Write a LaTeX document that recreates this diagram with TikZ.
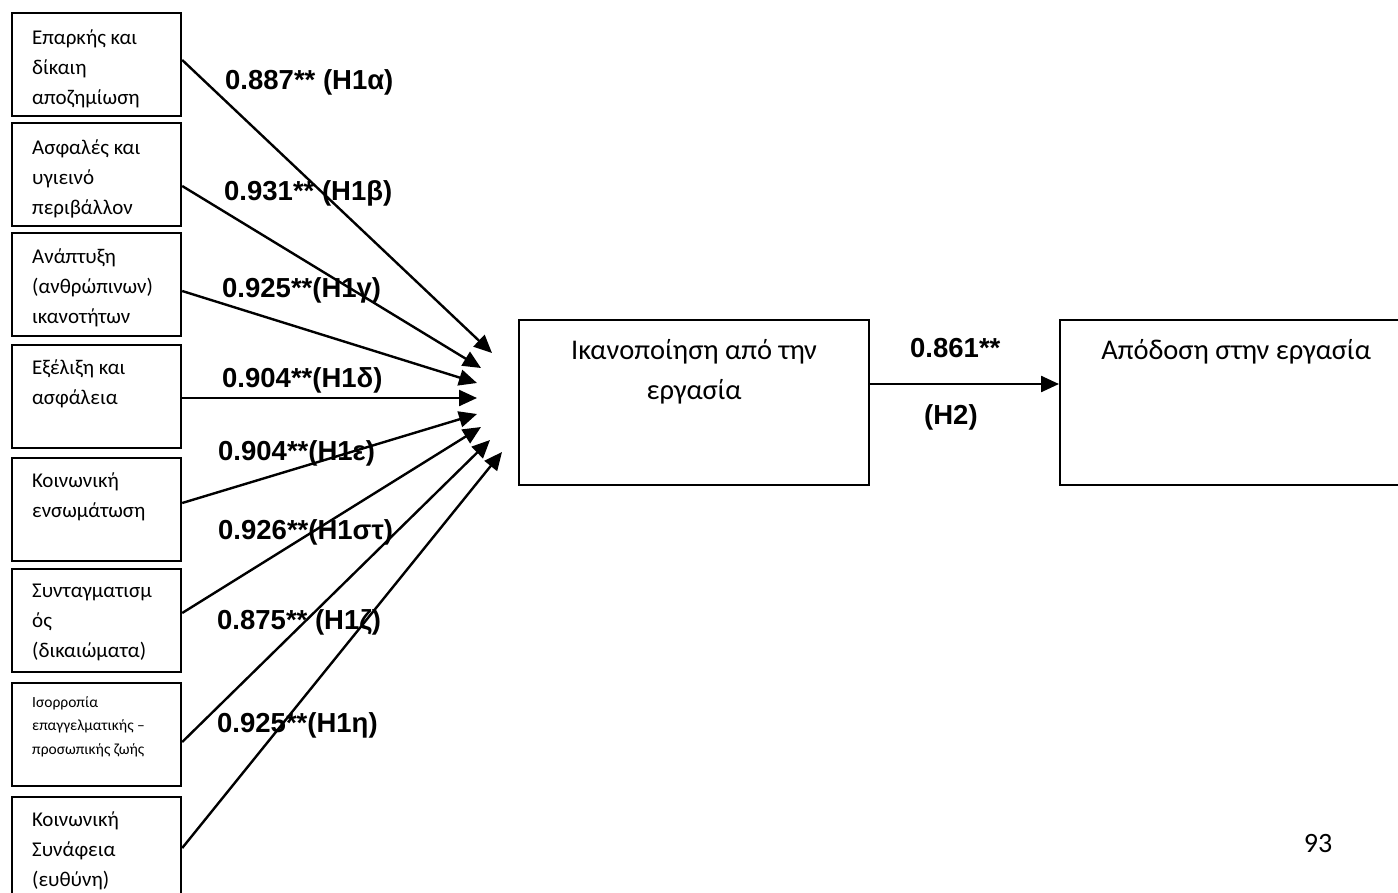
\documentclass[tikz,border=0pt]{standalone}
\usepackage{fontspec}
\setmainfont{Carlito}
\newfontfamily\coeffont{Liberation Sans}
\usetikzlibrary{arrows.meta}

\tikzset{
	factor/.style={draw, line width=2.2pt, minimum width=169pt, minimum height=103pt, anchor=north west, inner sep=0pt},
	factortext/.style={anchor=north west, align=left, inner sep=0pt, font=\fontsize{21}{30}\selectfont},
	smalltext/.style={factortext, font=\fontsize{15.5}{23.5}\selectfont},
	bigbox/.style={draw, line width=2.2pt, minimum height=165pt, anchor=north west, inner sep=0pt},
	bigtext/.style={anchor=north, align=center, inner sep=0pt, font=\fontsize{28.5}{40}\selectfont},
	coef/.style={anchor=west, inner sep=0pt, font=\coeffont\bfseries\fontsize{27.5}{33}\selectfont},
	link/.style={-{Triangle[length=18pt,width=16pt]}, line width=2.4pt}
}

\begin{document}
	\begin{tikzpicture}[x=1pt, y=-1pt]
		\clip (0,0) rectangle (1398,892);
		% factor boxes
		\node[factor] (f1) at (11,12) {};
		\node[factor] (f2) at (11,122) {};
		\node[factor] (f3) at (11,232) {};
		\node[factor] (f4) at (11,344) {};
		\node[factor] (f5) at (11,457) {};
		\node[factor] (f6) at (11,568) {};
		\node[factor] (f7) at (11,682) {};
		\node[factor] (f8) at (11,796) {};
		\node[factortext] (t1) at ([shift={(21,18)}]f1.north west) {Επαρκής και\\δίκαιη\\αποζημίωση};
		\node[factortext] (t2) at ([shift={(21,18)}]f2.north west) {Ασφαλές και\\υγιεινό\\περιβάλλον};
		\node[factortext] (t3) at ([shift={(21,17)}]f3.north west) {Ανάπτυξη\\(ανθρώπινων)\\ικανοτήτων};
		\node[factortext] (t4) at ([shift={(21,16)}]f4.north west) {Εξέλιξη και\\ασφάλεια};
		\node[factortext] (t5) at ([shift={(21,16)}]f5.north west) {Κοινωνική\\ενσωμάτωση};
		\node[factortext] (t6) at ([shift={(21,16)}]f6.north west) {Συνταγματισμ\\ός\\(δικαιώματα)};
		\node[smalltext] (t7) at ([shift={(21,14)}]f7.north west) {Ισορροπία\\επαγγελματικής –\\προσωπικής ζωής};
		\node[factortext] (t8) at ([shift={(21,16)}]f8.north west) {Κοινωνική\\Συνάφεια\\(ευθύνη)};
		% outcome boxes
		\node[bigbox, minimum width=350pt] (sat) at (518,319) {};
		\node[bigbox, minimum width=352pt] (perf) at (1059,319) {};
		\node[bigtext] (sattext) at ([shift={(0,20)}]sat.north) {Ικανοποίηση από την\\εργασία};
		\node[bigtext] (perftext) at ([shift={(0,20)}]perf.north) {Απόδοση στην εργασία};
		% arrow ends
		\coordinate (e1) at (492,353);
		\coordinate (e2) at (481,368);
		\coordinate (e3) at (477,383);
		\coordinate (e4) at (477,398);
		\coordinate (e5) at (477,414);
		\coordinate (e6) at (481,427);
		\coordinate (e7) at (490,440);
		\coordinate (e8) at (502,452);
		\draw[link] ([shift={(0,48)}]f1.north east) -- (e1);
		\draw[link] ([shift={(0,64)}]f2.north east) -- (e2);
		\draw[link] ([shift={(0,59)}]f3.north east) -- (e3);
		\draw[link] ([shift={(0,54)}]f4.north east) -- (e4);
		\draw[link] ([shift={(0,46)}]f5.north east) -- (e5);
		\draw[link] ([shift={(0,45)}]f6.north east) -- (e6);
		\draw[link] ([shift={(0,60)}]f7.north east) -- (e7);
		\draw[link] ([shift={(0,52)}]f8.north east) -- (e8);
		\draw[link] ([shift={(0,65)}]sat.north east) -- ([shift={(0,65)}]perf.north west);
		% coefficients
		\node[coef] (k1) at (225,82) {0.887** (H1α)};
		\node[coef] (k2) at (224,193) {0.931** (H1β)};
		\node[coef] (k3) at (222,290) {0.925**(H1γ)};
		\node[coef] (k4) at (222,380) {0.904**(H1δ)};
		\node[coef] (k5) at (218,453) {0.904**(H1ε)};
		\node[coef] (k6) at (218,532) {0.926**(H1στ)};
		\node[coef] (k7) at (217,622) {0.875** (H1ζ)};
		\node[coef] (k8) at (217,725) {0.925**(H1η)};
		\node[coef] (k9) at (910,348) {0.861**};
		\node[coef] (k10) at (924,417) {(H2)};
		\node[inner sep=0pt, font=\fontsize{28}{34}\selectfont] (page) at (1318,843) {93};
	\end{tikzpicture}
\end{document}
